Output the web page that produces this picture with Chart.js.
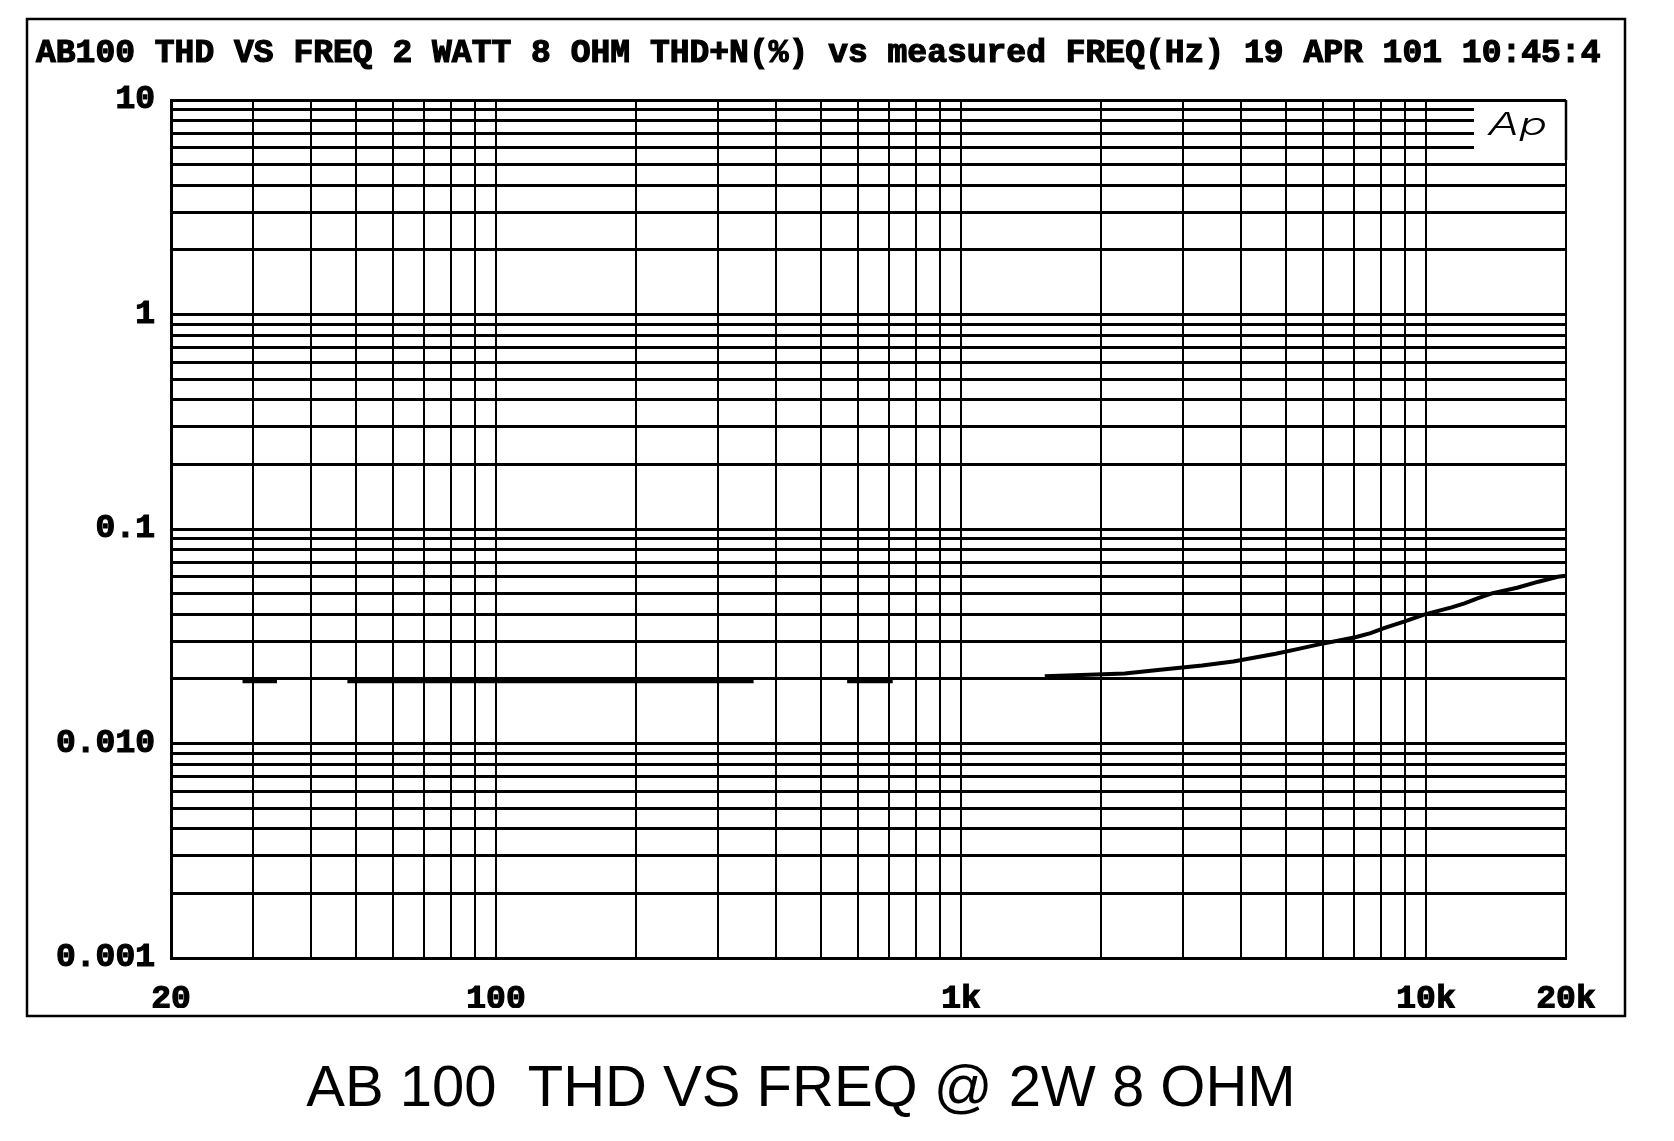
<!DOCTYPE html>
<html lang="en">
<head>
    <meta charset="UTF-8">
    <title>AB 100 THD vs FREQ</title>
    <script src="https://cdn.jsdelivr.net/npm/chart.js"></script>
    <style>
        html, body {
            margin: 0;
            padding: 0;
            background: #fff;
        }
        #wrap {
            position: relative;
            width: 1674px;
            height: 1141px;
        }
        #caption {
            position: absolute;
            left: 0;
            top: 1057px;
            width: 1602px;
            text-align: center;
            font: 58px "Liberation Sans", Arial, sans-serif;
            line-height: 58px;
            white-space: pre;
            color: #000;
        }
    </style>
</head>
<body>
<div id="wrap">
    <canvas id="thdChart"></canvas>
    <div id="caption"></div>
</div>
<script>
    // measured THD+N (%) vs frequency (Hz); null = gap in the trace
    const freqHz = [28.5, 33.8, 40, 47.9, 358, 450, 569, 713, 1000,
        1514, 2250, 2650, 3300, 3850, 4750, 5350, 5850, 7050, 7600, 8150,
        9000, 9900, 11350, 12100, 12900, 13850, 15700, 17450, 19200, 20000];
    const thdPct = [0.0195, 0.0195, null, 0.0195, 0.0195, null, 0.0195, 0.0195, null,
        0.0206, 0.0212, 0.0220, 0.0231, 0.0241, 0.0262, 0.0277, 0.0289, 0.0313, 0.0327, 0.0346,
        0.0371, 0.0399, 0.0431, 0.0450, 0.0475, 0.0501, 0.0532, 0.0568, 0.0599, 0.0605];

    const xGridHz = [20, 30, 40, 50, 60, 70, 80, 90,
        100, 200, 300, 400, 500, 600, 700, 800, 900,
        1000, 2000, 3000, 4000, 5000, 6000, 7000, 8000, 9000,
        10000, 20000];
    const xLabelHz = [20, 100, 1000, 10000, 20000];
    const xLabelText = ['20', '100', '1k', '10k', '20k'];

    const yGridPct = [0.001, 0.002, 0.003, 0.004, 0.005, 0.006, 0.007, 0.008, 0.009,
        0.01, 0.02, 0.03, 0.04, 0.05, 0.06, 0.07, 0.08, 0.09,
        0.1, 0.2, 0.3, 0.4, 0.5, 0.6, 0.7, 0.8, 0.9,
        1, 2, 3, 4, 5, 6, 7, 8, 9, 10];
    const yLabelPct = [10, 1, 0.1, 0.01, 0.001];
    const yLabelText = ['10', '1', '0.1', '0.010', '0.001'];

    const headerText = 'AB100 THD VS FREQ 2 WATT 8 OHM THD+N(%) vs measured FREQ(Hz) 19 APR 101 10:45:4';
    const captionText = 'AB 100  THD VS FREQ @ 2W 8 OHM';

    document.getElementById('caption').textContent = captionText;

    function labelFor(value, values, texts) {
        const i = values.findIndex(v => Math.abs(Math.log10(v) - Math.log10(value)) < 1e-6);
        return i >= 0 ? texts[i] : '';
    }

    const monoFont = { family: '"Liberation Mono", "Courier New", monospace', size: 33, weight: 'bold' };

    // outer frame, header line and the "Ap" badge
    const decor = {
        id: 'decor',
        beforeDatasetsDraw(chart) {
            const ctx = chart.ctx;
            const a = chart.chartArea;
            ctx.save();
            ctx.fillStyle = '#fff';
            ctx.fillRect(a.right - 92, a.top + 3, 92, 54);
            // keep the right edge of the grid solid beside the badge
            ctx.strokeStyle = '#000';
            ctx.lineWidth = 2.5;
            ctx.beginPath();
            ctx.moveTo(a.right, a.top);
            ctx.lineTo(a.right, a.top + 60);
            ctx.stroke();
            ctx.fillStyle = '#000';
            ctx.font = 'italic 300 31px Inter, "Liberation Sans", sans-serif';
            ctx.textBaseline = 'alphabetic';
            ctx.translate(a.right - 78, a.top + 35);
            ctx.scale(1.5, 1);
            ctx.fillText('Ap', 0, 0);
            ctx.restore();
        },
        afterDraw(chart) {
            const ctx = chart.ctx;
            ctx.save();
            ctx.strokeStyle = '#000';
            ctx.lineWidth = 2.5;
            ctx.strokeRect(27, 19, 1598, 997);
            ctx.fillStyle = '#000';
            ctx.font = 'bold 33px "Liberation Mono", "Courier New", monospace';
            ctx.textBaseline = 'alphabetic';
            ctx.textAlign = 'left';
            ctx.lineWidth = 1.2;
            ctx.fillText(headerText, 36, 62);
            ctx.strokeText(headerText, 36, 62);
            ctx.restore();
        }
    };

    new Chart(document.getElementById('thdChart'), {
        type: 'line',
        data: {
            datasets: [{
                data: freqHz.map((f, i) => ({ x: f, y: thdPct[i] })),
                borderColor: '#000',
                borderWidth: 4,
                pointRadius: 0,
                tension: 0,
                spanGaps: false
            }]
        },
        options: {
            responsive: true,
            maintainAspectRatio: false,
            animation: false,
            layout: { padding: { left: 0, right: 108, top: 100, bottom: 133 } },
            plugins: {
                legend: { display: false },
                title: { display: false },
                tooltip: { enabled: false }
            },
            scales: {
                x: {
                    type: 'logarithmic',
                    min: 20,
                    max: 20000,
                    afterBuildTicks: s => { s.ticks = xGridHz.map(v => ({ value: v })); },
                    afterFit: s => { s.height = 50; },
                    grid: { color: '#000', lineWidth: 2, drawTicks: false },
                    border: { color: '#000', width: 3 },
                    ticks: {
                        autoSkip: false,
                        maxRotation: 0,
                        minRotation: 0,
                        padding: 22,
                        color: '#000',
                        textStrokeColor: '#000',
                        textStrokeWidth: 1.2,
                        font: monoFont,
                        callback: v => labelFor(v, xLabelHz, xLabelText)
                    }
                },
                y: {
                    type: 'logarithmic',
                    min: 0.001,
                    max: 10,
                    afterBuildTicks: s => { s.ticks = yGridPct.map(v => ({ value: v })); },
                    afterFit: s => { s.width = 171; },
                    grid: { color: '#000', lineWidth: 3, drawTicks: false },
                    border: { color: '#000', width: 3 },
                    ticks: {
                        autoSkip: false,
                        padding: 16,
                        color: '#000',
                        textStrokeColor: '#000',
                        textStrokeWidth: 1.2,
                        font: monoFont,
                        callback: v => labelFor(v, yLabelPct, yLabelText)
                    }
                }
            }
        },
        plugins: [decor]
    });
</script>
</body>
</html>
